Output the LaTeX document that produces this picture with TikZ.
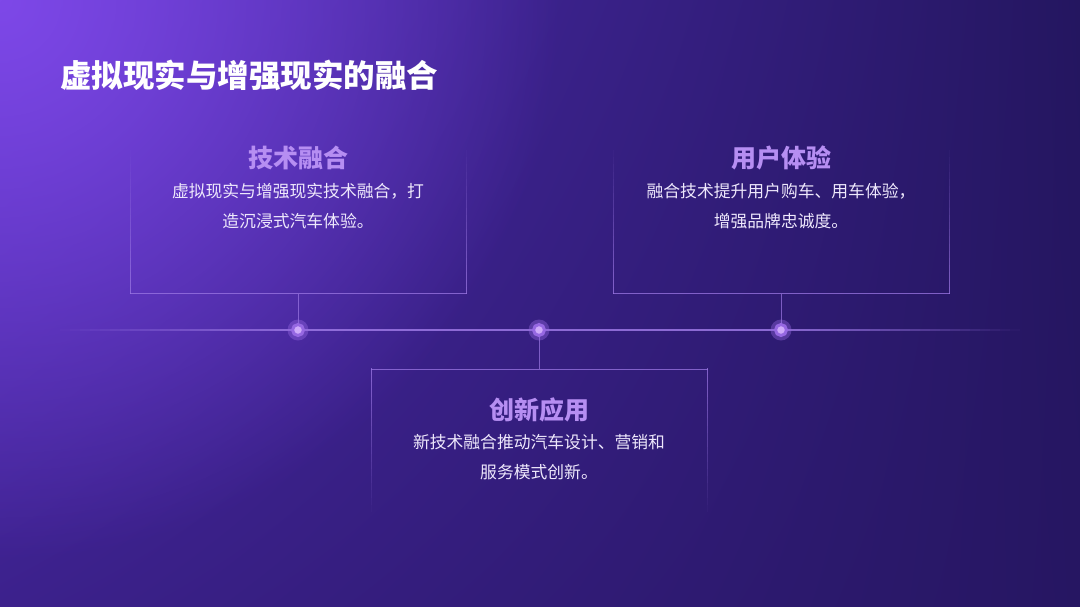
\documentclass[tikz,border=0pt]{standalone}
\usepackage{fontspec}
\setmainfont{Noto Sans CJK SC}
\usetikzlibrary{fadings,shadings}

\definecolor{bgUL}{RGB}{82,46,184}
\definecolor{bgUR}{RGB}{36,22,96}
\definecolor{bgLL}{RGB}{60,33,140}
\definecolor{bgLR}{RGB}{38,22,98}
\definecolor{bgGlow}{RGB}{126,72,232}
\definecolor{lineLav}{RGB}{156,120,228}
\definecolor{headLav}{RGB}{182,142,242}
\definecolor{bodyTxt}{RGB}{238,232,252}
\definecolor{dotCore}{RGB}{206,170,250}
\definecolor{dotRing}{RGB}{150,104,226}

\tikzfading[name=glowfade, inner color=transparent!0, outer color=transparent!100]

\tikzset{
  title/.style={text=white, font=\fontsize{31.5}{36}\selectfont\bfseries, inner sep=0pt, anchor=west},
  head/.style={text=headLav, font=\fontsize{25}{28}\selectfont\bfseries, inner sep=0pt},
  body/.style={text=bodyTxt, font=\fontsize{16.8}{30}\selectfont, inner sep=0pt, align=center},
  edge/.style={draw=lineLav, line width=1.2pt},
  conn/.style={draw=lineLav, line width=1pt, opacity=0.7},
  dot/.style={circle, fill=dotCore, minimum size=11pt, inner sep=0pt, draw=dotRing, line width=3pt}
}

\begin{document}
\begin{tikzpicture}[x=1pt, y=-1pt]
  \useasboundingbox (0,0) rectangle (1080,606);
  % background
  \shade[upper left=bgUL, upper right=bgUR, lower left=bgLL, lower right=bgLR]
        (0,0) rectangle (1080,606);
  \begin{scope}
    \clip (0,0) rectangle (1080,606);
    \fill[bgGlow, path fading=glowfade] (-560,-560) rectangle (560,560);
  \end{scope}

  \node[title] (ttl) at (60,75) {虚拟现实与增强现实的融合};

  % timeline
  \foreach \i [evaluate=\i as \op using 0.85*(\i+1)/24] in {0,...,23} {
    \draw[lineLav, line width=2pt, opacity=\op] ({60+10*\i},330) -- ({70+10*\i},330);
    \draw[lineLav, line width=2pt, opacity=\op] ({1020-10*\i},330) -- ({1010-10*\i},330);
  }
  \draw[lineLav, line width=2pt, opacity=0.85] (300,330) -- (780,330);
  \fill[dotRing, opacity=0.4] (298,330) circle (10.5) (539,330) circle (10.5) (781,330) circle (10.5);
  \node[dot] (d1) at (298,330) {};
  \node[dot] (d2) at (539,330) {};
  \node[dot] (d3) at (781,330) {};

  % box frames, sides fading out
  \draw[edge, opacity=0.75] (130,293.5) -- (467,293.5);
  \draw[edge, opacity=0.75] (613,293.5) -- (950,293.5);
  \draw[edge, opacity=0.75] (371,369.5) -- (708,369.5);
  \foreach \i [evaluate=\i as \op using 0.75*(\i+1)/20] in {0,...,19} {
    \draw[edge, opacity=\op] (130.5,{150+7.2*\i}) -- (130.5,{157.2+7.2*\i});
    \draw[edge, opacity=\op] (466.5,{150+7.2*\i}) -- (466.5,{157.2+7.2*\i});
    \draw[edge, opacity=\op] (613.5,{150+7.2*\i}) -- (613.5,{157.2+7.2*\i});
    \draw[edge, opacity=\op] (949.5,{150+7.2*\i}) -- (949.5,{157.2+7.2*\i});
    \draw[edge, opacity=\op] (371.5,{512-7.2*\i}) -- (371.5,{504.8-7.2*\i});
    \draw[edge, opacity=\op] (707.5,{512-7.2*\i}) -- (707.5,{504.8-7.2*\i});
  }

  % upper left box
  \coordinate (b1) at (298,294);
  \draw[conn] (b1) -- (d1);
  \node[head] (h1) at (298,158) {技术融合};
  \node[body] (t1) at (298,206) {虚拟现实与增强现实技术融合，打\\造沉浸式汽车体验。};

  % upper right box
  \coordinate (b3) at (781,294);
  \draw[conn] (b3) -- (d3);
  \node[head] (h3) at (781,158) {用户体验};
  \node[body] (t3) at (781,206) {融合技术提升用户购车、用车体验，\\增强品牌忠诚度。};

  % lower middle box
  \coordinate (b2) at (539,369);
  \draw[conn] (d2) -- (b2);
  \node[head] (h2) at (539,410) {创新应用};
  \node[body] (t2) at (539,457) {新技术融合推动汽车设计、营销和\\服务模式创新。};
\end{tikzpicture}
\end{document}
